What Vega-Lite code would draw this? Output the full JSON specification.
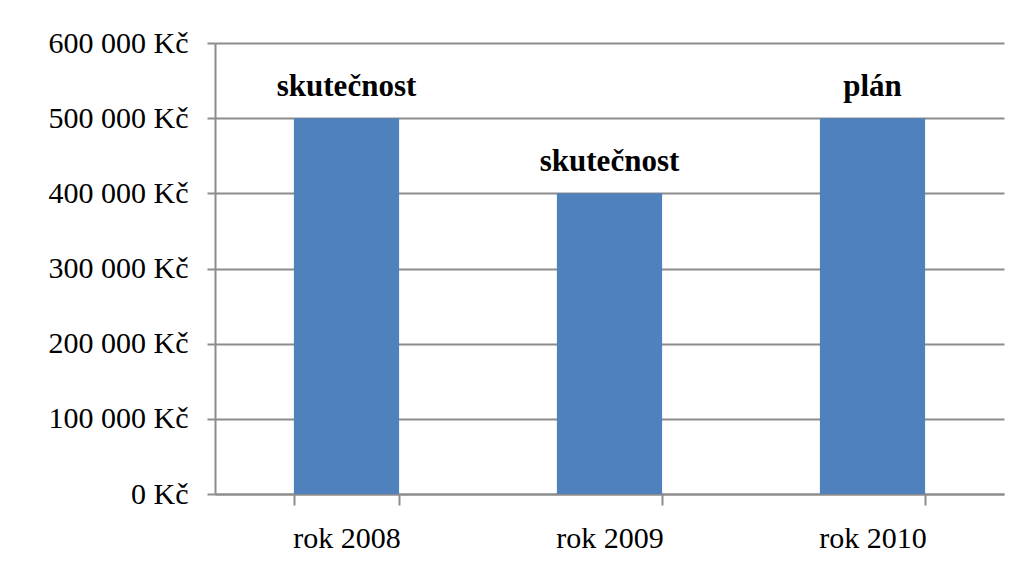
{
  "$schema": "https://vega.github.io/schema/vega-lite/v6.json",
  "width": 789,
  "height": 451,
  "autosize": {"type": "none"},
  "padding": {"left": 215, "top": 43, "right": 17, "bottom": 88},
  "background": "white",
  "config": {
    "view": {"stroke": null},
    "font": "Liberation Serif"
  },
  "data": {
    "values": [
      {"rok": "rok 2008", "castka": 500000, "typ": "skutečnost"},
      {"rok": "rok 2009", "castka": 400000, "typ": "skutečnost"},
      {"rok": "rok 2010", "castka": 500000, "typ": "plán"}
    ]
  },
  "encoding": {
    "x": {
      "field": "rok",
      "type": "nominal",
      "sort": null,
      "scale": {"paddingInner": 0.6, "paddingOuter": 0.3},
      "axis": {
        "title": null,
        "labelAngle": 0,
        "labelFont": "Liberation Serif",
        "labelFontSize": 30,
        "labelColor": "#000000",
        "labelPadding": 18,
        "tickBand": "extent",
        "tickSize": 11,
        "tickColor": "#8c8c8c",
        "tickWidth": 2,
        "domainColor": "#8c8c8c",
        "domainWidth": 2,
        "grid": false
      }
    },
    "y": {
      "field": "castka",
      "type": "quantitative",
      "scale": {"domain": [0, 600000]},
      "axis": {
        "title": null,
        "values": [0, 100000, 200000, 300000, 400000, 500000, 600000],
        "labelExpr": "replace(format(datum.value, ','), regexp(',', 'g'), ' ') + ' Kč'",
        "labelFont": "Liberation Serif",
        "labelFontSize": 30,
        "labelColor": "#000000",
        "labelPadding": 19,
        "tickSize": 8,
        "tickColor": "#8c8c8c",
        "tickWidth": 2,
        "domainColor": "#8c8c8c",
        "domainWidth": 2,
        "grid": true,
        "gridColor": "#8c8c8c",
        "gridWidth": 2
      }
    }
  },
  "layer": [
    {"mark": {"type": "bar", "color": "#4F81BD"}},
    {
      "mark": {
        "type": "text",
        "font": "Liberation Serif",
        "fontSize": 31,
        "fontWeight": "bold",
        "color": "#000000",
        "baseline": "alphabetic",
        "dy": -22
      },
      "encoding": {"text": {"field": "typ"}}
    }
  ]
}
